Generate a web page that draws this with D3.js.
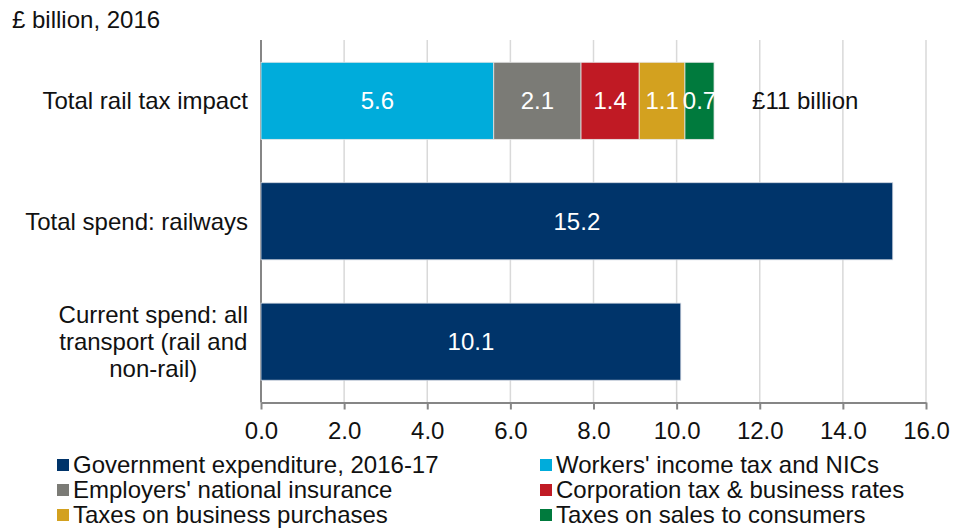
<!DOCTYPE html>
<html>
<head>
<meta charset="utf-8">
<script src="https://cdn.jsdelivr.net/npm/d3@7"></script>
<style>
  html, body { margin: 0; padding: 0; background: #fff; }
  svg { display: block; font-family: "Liberation Sans", Arial, sans-serif; }
</style>
</head>
<body>
<svg id="chart" width="958" height="530"></svg>
<script>
// Categories (top to bottom)
const categories = [
  "Total rail tax impact",
  "Total spend: railways",
  "Current spend: all transport (rail and non-rail)"
];
const categoryLines = [
  ["Total rail tax impact"],
  ["Total spend: railways"],
  ["Current spend: all", "transport (rail and", "non-rail)"]
];

// Government expenditure bars (£ billion)
const spendCategories = ["Total spend: railways", "Current spend: all transport (rail and non-rail)"];
const spendValues = [15.2, 10.1];

// Tax impact components (£ billion), stacked left to right
const taxSeries = [
  "Workers' income tax and NICs",
  "Employers' national insurance",
  "Corporation tax & business rates",
  "Taxes on business purchases",
  "Taxes on sales to consumers"
];
const taxValues = [5.6, 2.1, 1.4, 1.1, 0.7];
const taxTotalLabel = "£11 billion";

const xTicks = [0, 2, 4, 6, 8, 10, 12, 14, 16];

// Legend order (two columns, row-major)
const legendItems = [
  "Government expenditure, 2016-17",
  "Workers' income tax and NICs",
  "Employers' national insurance",
  "Corporation tax & business rates",
  "Taxes on business purchases",
  "Taxes on sales to consumers"
];

const colors = {
  "Government expenditure, 2016-17": "#00346a",
  "Workers' income tax and NICs": "#00acdb",
  "Employers' national insurance": "#7b7b76",
  "Corporation tax & business rates": "#c01a24",
  "Taxes on business purchases": "#d3a11f",
  "Taxes on sales to consumers": "#007a3d"
};

const svg = d3.select("#chart");
const fs = 24;

const x = d3.scaleLinear().domain([0, 16]).range([261, 926]);
const y = d3.scaleBand().domain(categories).range([40, 402.5])
  .paddingInner(0.36).paddingOuter(0.185);

// Title
svg.append("text").attr("x", 12).attr("y", 28)
  .attr("font-size", fs).attr("fill", "#111").text("£ billion, 2016");

// Vertical gridlines
svg.append("g").selectAll("line").data(xTicks.filter(d => d > 0)).join("line")
  .attr("x1", d => x(d)).attr("x2", d => x(d))
  .attr("y1", 40).attr("y2", 402.5)
  .attr("stroke", "#d9d9d9").attr("stroke-width", 1.5);

// Bottom axis
const xAxis = d3.axisBottom(x).tickValues(xTicks).tickFormat(d3.format(".1f"))
  .tickSize(7).tickSizeOuter(0).tickPadding(12);
const gx = svg.append("g").attr("transform", "translate(0,402.5)").call(xAxis);
gx.select(".domain").attr("stroke", "#868686").attr("stroke-width", 2);
gx.selectAll(".tick line").attr("stroke", "#868686").attr("stroke-width", 2);
gx.selectAll(".tick text").attr("font-size", fs).attr("fill", "#111")
  .attr("font-family", "Liberation Sans, Arial, sans-serif");

// Vertical axis line
svg.append("line").attr("x1", x(0)).attr("x2", x(0))
  .attr("y1", 40).attr("y2", 402.5)
  .attr("stroke", "#868686").attr("stroke-width", 2);

// Category labels
const catG = svg.append("g");
categories.forEach((c, i) => {
  const lines = categoryLines[i];
  const lh = 27;
  const cy = y(c) + y.bandwidth() / 2;
  const t = catG.append("text").attr("font-size", fs).attr("fill", "#111")
    .attr("text-anchor", "middle");
  lines.forEach((ln, j) => {
    t.append("tspan").attr("x", 0)
      .attr("y", cy + (j - (lines.length - 1) / 2) * lh)
      .attr("dy", "0.35em").text(ln);
  });
  const w = t.node().getBBox().width;
  t.attr("transform", `translate(${248 - w / 2},0)`);
});

// Stacked tax impact bar
let acc = 0;
const stacks = taxValues.map((v, i) => {
  const s = { key: taxSeries[i], v, x0: acc, x1: acc + v };
  acc += v;
  return s;
});
const taxY = y(categories[0]);
svg.append("g").selectAll("rect").data(stacks).join("rect")
  .attr("x", d => x(d.x0)).attr("width", d => x(d.x1) - x(d.x0))
  .attr("y", taxY).attr("height", y.bandwidth())
  .attr("fill", d => colors[d.key])
  .attr("stroke", "#e6e6e6").attr("stroke-width", 0.8);
svg.append("g").selectAll("text").data(stacks).join("text")
  .attr("x", d => (x(d.x0) + x(d.x1)) / 2)
  .attr("y", taxY + y.bandwidth() / 2).attr("dy", "0.35em")
  .attr("text-anchor", "middle").attr("font-size", fs).attr("fill", "#fff")
  .text(d => d.v.toFixed(1));
svg.append("text").attr("x", x(acc) + 38).attr("y", taxY + y.bandwidth() / 2)
  .attr("dy", "0.35em").attr("font-size", fs).attr("fill", "#111")
  .text(taxTotalLabel);

// Government expenditure bars
const spendG = svg.append("g");
spendG.selectAll("rect").data(spendValues).join("rect")
  .attr("x", x(0)).attr("width", d => x(d) - x(0))
  .attr("y", (d, i) => y(spendCategories[i])).attr("height", y.bandwidth())
  .attr("fill", colors["Government expenditure, 2016-17"])
  .attr("stroke", "#d0d6e0").attr("stroke-width", 0.8);
spendG.selectAll("text").data(spendValues).join("text")
  .attr("x", d => (x(0) + x(d)) / 2)
  .attr("y", (d, i) => y(spendCategories[i]) + y.bandwidth() / 2).attr("dy", "0.35em")
  .attr("text-anchor", "middle").attr("font-size", fs).attr("fill", "#fff")
  .text(d => d.toFixed(1));

// Legend
const legG = svg.append("g");
legendItems.forEach((k, i) => {
  const col = i % 2, row = Math.floor(i / 2);
  const lx = col === 0 ? 57 : 540;
  const ly = 465 + row * 25;
  legG.append("rect").attr("x", lx).attr("y", ly - 6).attr("width", 12).attr("height", 12)
    .attr("fill", colors[k]);
  legG.append("text").attr("x", lx + 16).attr("y", ly).attr("dy", "0.35em")
    .attr("font-size", fs).attr("fill", "#111").text(k);
});
</script>
</body>
</html>
